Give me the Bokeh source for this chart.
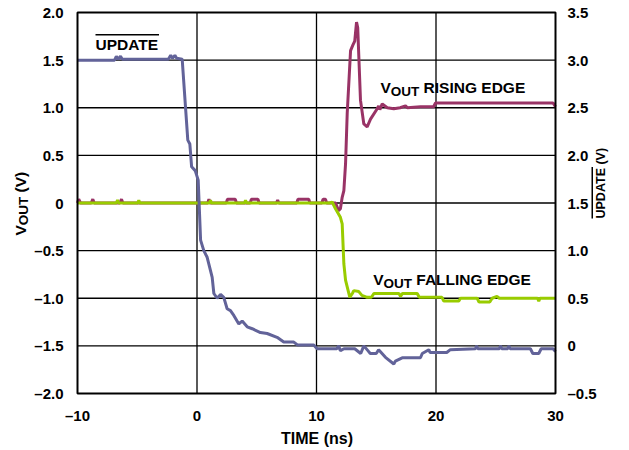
import math
from bokeh.plotting import figure
from bokeh.models import Range1d, LinearAxis, FixedTicker, Label, BoxAnnotation
from bokeh.embed import file_html
from bokeh.resources import INLINE

# ---------------- data ----------------
# UPDATE (right axis, V)
t_update = [-10, -6.9, -6.75, -6.6, -6.4, -6.25, -2.4, -2.2, -2.05, -1.85, -1.7, -1.24,
            -0.77, -0.6, -0.45, -0.15, 0.1, 0.3, 0.57, 0.85, 1.13, 1.27, 1.41, 1.69,
            1.97, 2.24, 2.52, 2.8, 3.08, 3.5, 3.78, 4.2, 4.62, 5.31, 5.87, 6.7, 7.26,
            8.1, 8.4, 9.77, 10.05, 11.7, 11.85, 12.0, 12.3, 13.2, 13.7, 13.96, 14.3,
            14.5, 15.0, 15.2, 15.77, 16.47, 16.6, 17.17, 18.7, 18.85, 19.4, 19.5, 20.9,
            21.2, 23.3, 23.4, 23.5, 25.3, 25.4, 25.5, 26.0, 26.1, 26.2, 27.9, 28.1,
            28.6, 28.8, 29.8, 30]
v_update = [3.00, 3.00, 3.04, 3.01, 3.04, 3.01, 3.01, 3.05, 3.02, 3.05, 3.02, 3.01,
            2.16, 2.12, 1.88, 1.84, 1.74, 1.11, 1.00, 0.93, 0.79, 0.72, 0.55, 0.50,
            0.54, 0.51, 0.39, 0.37, 0.32, 0.23, 0.26, 0.20, 0.18, 0.14, 0.13, 0.09, 0.04,
            0.04, 0.01, 0.01, -0.03, -0.03, 0.00, -0.05, -0.03, -0.03, -0.08, 0.00, -0.05,
            -0.08, -0.08, -0.04, -0.12, -0.19, -0.16, -0.125, -0.125, -0.08, -0.04, -0.07, -0.07,
            -0.04, -0.03, 0.00, -0.03, -0.03, 0.00, -0.03, -0.03, 0.00, -0.03, -0.03, -0.08,
            -0.08, -0.03, -0.03, -0.06]

# V_OUT rising edge (left axis, V)
t_rise = [-10, -9.9, -9.75, -8.85, -8.72, -8.6, -6.45, -6.32, -6.2, 0.9, 1.0, 1.1,
          2.45, 2.55, 3.2, 3.3, 4.45, 4.55, 5.1, 5.2, 6.65, 6.75, 6.85, 8.35, 8.45,
          9.35, 9.45, 10.45, 10.55, 10.75, 10.85, 11.6, 11.84, 12.0, 12.15, 12.29,
          12.43, 12.57, 12.85, 13.05, 13.2, 13.35, 13.45, 13.68, 13.96, 14.24, 14.52,
          15.08, 15.2, 15.3, 15.5, 15.92, 16.47, 17.0, 17.45, 17.6, 18.7, 19.8, 19.96,
          29.8, 30]
v_rise = [0, 0.04, 0, 0, 0.04, 0, 0, 0.04, 0, 0, 0.04, 0,
          0, 0.04, 0.04, 0, 0, 0.04, 0.04, 0, 0, 0.03, 0, 0, 0.04,
          0.04, 0, 0, 0.04, 0.04, 0, 0, -0.08, -0.06, 0.06, 0.13,
          0.41, 0.94, 1.60, 1.66, 1.70, 1.90, 1.84, 1.08, 0.83, 0.80, 0.88,
          0.99, 1.02, 0.98, 1.04, 1.00, 0.99, 1.00, 1.02, 1.00, 1.01, 1.01, 1.05,
          1.05, 1.01]

# V_OUT falling edge (left axis, V)
t_fall = [-10, -6.75, -6.65, -6.55, -4.95, -4.87, -4.8, 1.05, 1.13, 1.2, 3.98, 4.06,
          4.14, 11.1, 11.31, 11.59, 12.0, 12.15, 12.29, 12.43, 12.57, 12.79, 13.0,
          13.12, 13.54, 13.8, 14.24, 14.6, 14.8, 15.08, 16.9, 17.03, 17.2, 18.43,
          18.6, 20.5, 20.65, 21.9, 22.05, 23.45, 23.6, 24.5, 24.7, 25.1, 25.3, 28.5,
          28.6, 28.7, 30]
v_fall = [0, 0, 0.03, 0, 0, 0.03, 0, 0, 0.03, 0, 0, 0.03,
          0, 0, 0.01, -0.06, -0.15, -0.22, -0.64, -0.81, -0.88, -0.99, -0.95,
          -0.92, -0.93, -0.97, -0.99, -0.99, -0.95, -0.95, -0.95, -0.98, -0.95, -0.95,
          -0.99, -0.99, -1.03, -1.03, -1.00, -1.00, -1.04, -1.04, -1.00, -0.98, -1.00, -1.00,
          -1.03, -1.00, -1.00]

x_ticks = [-10, 0, 10, 20, 30]
x_tick_labels = ["\u201310", "0", "10", "20", "30"]
yl_ticks = [-2.0, -1.5, -1.0, -0.5, 0.0, 0.5, 1.0, 1.5, 2.0]
yl_tick_labels = ["\u20132.0", "\u20131.5", "\u20131.0", "\u20130.5", "0", "0.5", "1.0", "1.5", "2.0"]
yr_ticks = [-0.5, 0.0, 0.5, 1.0, 1.5, 2.0, 2.5, 3.0, 3.5]
yr_tick_labels = ["\u20130.5", "0", "0.5", "1.0", "1.5", "2.0", "2.5", "3.0", "3.5"]
x_grid = [0, 10, 20]
y_grid = [-1.5, -1.0, -0.5, 0.0, 0.5, 1.0, 1.5]

X_MIN, X_MAX = -10, 30
Y_MIN, Y_MAX = -2.0, 2.0
RIGHT_SHIFT = 1.5  # right axis value = left axis value + 1.5

# ---------------- layout (pixels of the 629x450 picture) ----------------
W, H = 629, 450
BOX_L, BOX_R, BOX_T, BOX_B = 77, 555, 12, 393
sx = (X_MAX - X_MIN) / (BOX_R - BOX_L)
sy = (Y_MAX - Y_MIN) / (BOX_B - BOX_T)
x_lo = X_MIN - BOX_L * sx
x_hi = X_MAX + (W - BOX_R) * sx
y_hi = Y_MAX + BOX_T * sy
y_lo = Y_MIN - (H - BOX_B) * sy

FONT = "Liberation Sans"
p = figure(width=W, height=H, x_range=Range1d(x_lo, x_hi), y_range=Range1d(y_lo, y_hi),
           output_backend="svg", toolbar_location=None,
           min_border_left=0, min_border_right=0, min_border_top=0, min_border_bottom=0)
p.extra_y_ranges = {"right": Range1d(y_lo + RIGHT_SHIFT, y_hi + RIGHT_SHIFT)}
p.background_fill_color = "white"
p.border_fill_color = "white"
p.outline_line_color = None
p.xgrid.visible = False
p.ygrid.visible = False

right_axis = LinearAxis(y_range_name="right")
p.add_layout(right_axis, "right")

p.xaxis.ticker = FixedTicker(ticks=x_ticks)
p.xaxis.major_label_overrides = dict(zip(x_ticks, x_tick_labels))
p.yaxis[0].ticker = FixedTicker(ticks=yl_ticks)
p.yaxis[0].major_label_overrides = dict(zip(yl_ticks, yl_tick_labels))
right_axis.ticker = FixedTicker(ticks=yr_ticks)
right_axis.major_label_overrides = dict(zip(yr_ticks, yr_tick_labels))

p.xaxis[0].fixed_location = Y_MIN
p.yaxis[0].fixed_location = X_MIN
right_axis.fixed_location = X_MAX

for ax in [p.xaxis[0], p.yaxis[0], right_axis]:
    ax.axis_line_color = None
    ax.major_tick_line_color = None
    ax.minor_tick_line_color = None
    ax.major_label_text_font = FONT
    ax.major_label_text_font_style = "bold"
    ax.major_label_text_font_size = "15px"
    ax.major_label_text_color = "black"
p.xaxis[0].major_label_standoff = 7
p.yaxis[0].major_label_standoff = 8
right_axis.major_label_standoff = 6

# grid lines (from the grid tick lists)
p.segment(x0=x_grid, y0=[Y_MIN] * len(x_grid), x1=x_grid, y1=[Y_MAX] * len(x_grid),
          line_color="black", line_width=1.3)
p.segment(x0=[X_MIN] * len(y_grid), y0=y_grid, x1=[X_MAX] * len(y_grid), y1=y_grid,
          line_color="black", line_width=1.3)

p.line(t_rise, v_rise, line_color="#993366", line_width=3)
p.line(t_fall, v_fall, line_color="#99CC00", line_width=3)
p.line(t_update, v_update, line_color="#626399", line_width=3, y_range_name="right")

# plot box
p.add_layout(BoxAnnotation(left=X_MIN, right=X_MAX, bottom=Y_MIN, top=Y_MAX,
                           fill_alpha=0, line_color="black", line_width=2, line_alpha=1))

# ---------------- text ----------------
FIX = 6.0  # baseline correction (px)

def dx(ix):
    return x_lo + ix * sx

def dy(iy):
    return y_hi - iy * sy

def lab(ix, iy, text, size, angle=0.0, align="left", baseline="alphabetic"):
    if baseline == "alphabetic":
        if angle == 0.0:
            iy -= FIX
        else:
            ix -= FIX
    p.add_layout(Label(x=dx(ix), y=dy(iy), text=text, text_font=FONT,
                       text_font_style="bold", text_font_size=f"{size}px",
                       text_color="black", angle=angle, text_align=align,
                       text_baseline=baseline))

def bar(ix0, ix1, iy0, iy1):
    p.add_layout(BoxAnnotation(left=dx(ix0), right=dx(ix1), top=dy(iy0), bottom=dy(iy1),
                               fill_color="black", fill_alpha=1, line_alpha=0))

# UPDATE (overlined)
lab(95, 50, "UPDATE", 15.5)
bar(95, 158.5, 33.5, 35.0)

# V_OUT RISING EDGE
lab(380, 93.3, "V", 15.5)
lab(390.3, 97.3, "OUT", 13.5)
lab(423.1, 93.3, "RISING EDGE", 15.5)

# V_OUT FALLING EDGE
lab(372.7, 285, "V", 15.5)
lab(383, 289, "OUT", 13.5)
lab(415.8, 285, "FALLING EDGE", 15.5)

# x axis title
lab(316.5, 437.5, "TIME (ns)", 16, align="center", baseline="middle")

# left axis title (rotated)
R = math.pi / 2
lab(25.5, 235, "V", 15.5, angle=R)
lab(29.0, 224.7, "OUT", 13.5, angle=R)
lab(25.5, 191.9, "(V)", 15.5, angle=R)

# right axis title (rotated, UPDATE overlined)
lab(606, 218, "UPDATE (V)", 12.5, angle=R)
bar(591, 592.5, 166.6, 218)

open("out.html", "w").write(file_html(p, INLINE))
